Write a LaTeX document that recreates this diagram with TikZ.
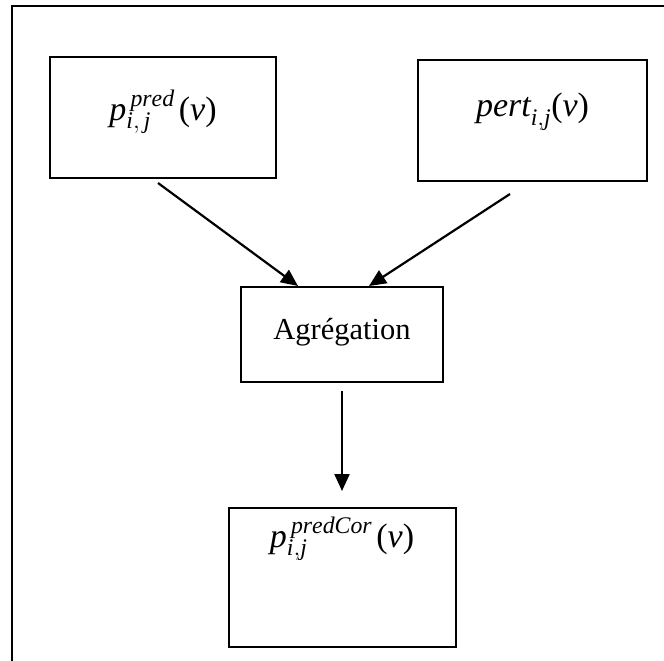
\documentclass[tikz,border=0pt]{standalone}
\usepackage{fontspec}
\setmainfont{Liberation Serif}
\usepackage{tikz}
\usetikzlibrary{arrows.meta}

\newcommand{\argv}{\textup{(}\mathit{v}\textup{)}}

\begin{document}
\begin{tikzpicture}[x=1pt,y=-1pt,
  boite/.style={draw,line width=2pt,inner sep=0pt,font=\fontsize{34}{40}\selectfont},
  fleche/.style={line width=2.2pt,-{Triangle[length=17pt,width=15pt]}}]
\useasboundingbox (0,0) rectangle (664,661);
\draw[line width=1.5pt] (12,661) -- (12,6) -- (664,6);
\node (pred) [boite,minimum width=226pt,minimum height=121pt,text height=25pt,text depth=20pt] at (163,117.5) {$\mathit{p}_{\mathit{i},\,\mathit{j}}^{\,\mathit{pred}}\,\argv$} ;
\node (pert) [boite,minimum width=229pt,minimum height=121pt,text height=25pt,text depth=32pt] at (532.5,120.5) {$\mathit{pert}_{\mathit{i},\mathit{j}}\argv$} ;
\node (agreg) [boite,minimum width=202pt,minimum height=95pt,text height=21pt,text depth=12pt,font=\fontsize{30.5}{36}\selectfont] at (342,334.5) {Agrégation} ;
\node (predcor) [boite,minimum width=227pt,minimum height=139pt,text height=35pt,text depth=96pt] at (342,577.5) {$\mathit{p}_{\mathit{i},\mathit{j}}^{\,\mathit{predCor}}\,\argv$} ;
\draw[fleche] ([xshift=-5pt,yshift=-4pt]pred.south) to ([xshift=-44pt]agreg.north) ;
\draw[fleche] ([xshift=-22.5pt,yshift=-12pt]pert.south) to ([xshift=27pt]agreg.north) ;
\draw[fleche] ([yshift=-8pt]agreg.south) to ([yshift=16pt]predcor.north) ;
\end{tikzpicture}
\end{document}
